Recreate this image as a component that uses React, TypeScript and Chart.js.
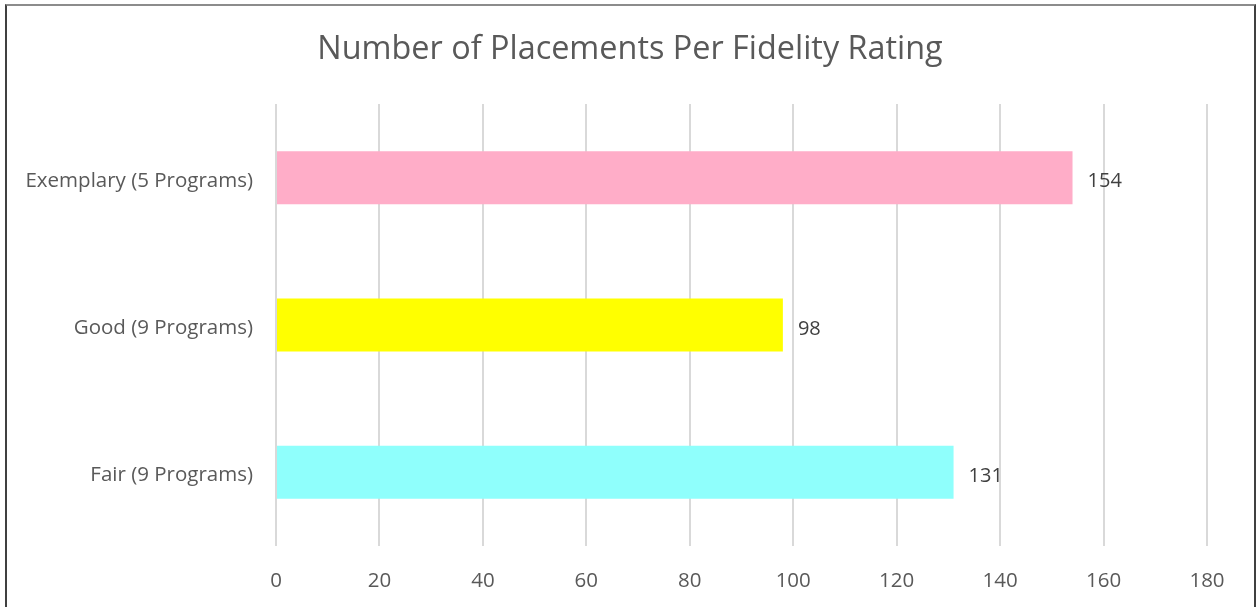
import React, { useEffect, useRef } from "react";
import { Chart, registerables } from "chart.js";

Chart.register(...registerables);

const titleText = "Number of Placements Per Fidelity Rating";
const categories = ["Exemplary (5 Programs)", "Good (9 Programs)", "Fair (9 Programs)"];
const placements = [154, 98, 131];
const barColors = ["#FFADC8", "#FFFF00", "#8FFFFC"];
const xTicks = [0, 20, 40, 60, 80, 100, 120, 140, 160, 180];

const FONT = "'Open Sans', sans-serif";

export default function App() {
  const ref = useRef<HTMLCanvasElement | null>(null);

  useEffect(() => {
    document.body.style.margin = "0";
    const canvas = ref.current;
    if (!canvas) return;

    const titlePlugin = {
      id: "customTitle",
      afterDraw(chart: any) {
        const ctx = chart.ctx;
        ctx.save();
        ctx.font = `32.4px ${FONT}`;
        ctx.fillStyle = "#595959";
        ctx.textAlign = "center";
        ctx.textBaseline = "middle";
        ctx.fillText(titleText, 630, 50);
        ctx.restore();
      },
    };

    const valueLabels = {
      id: "valueLabels",
      afterDatasetsDraw(chart: any) {
        const ctx = chart.ctx;
        const meta = chart.getDatasetMeta(0);
        ctx.save();
        ctx.font = `20px ${FONT}`;
        ctx.fillStyle = "#404040";
        ctx.textAlign = "left";
        ctx.textBaseline = "middle";
        meta.data.forEach((bar: any, i: number) => {
          ctx.fillText(String(placements[i]), bar.x + 15, bar.y + 4);
        });
        ctx.restore();
      },
    };

    const chart = new Chart(canvas, {
      type: "bar",
      data: {
        labels: categories,
        datasets: [
          {
            data: placements,
            backgroundColor: barColors,
            borderWidth: 0,
            barPercentage: 0.36,
            categoryPercentage: 1,
          },
        ],
      },
      options: {
        indexAxis: "y",
        animation: false,
        responsive: false,
        maintainAspectRatio: false,
        layout: { padding: { top: 104, right: 50, left: 0, bottom: 0 } },
        plugins: {
          legend: { display: false },
          title: { display: false },
          tooltip: { enabled: false },
        },
        scales: {
          x: {
            min: 0,
            max: 180,
            afterBuildTicks(scale: any) {
              scale.ticks = xTicks.map((v) => ({ value: v }));
            },
            afterFit(scale: any) {
              scale.height = 61;
            },
            grid: { color: "#D9D9D9", lineWidth: 2, drawTicks: false },
            border: { display: false },
            ticks: {
              padding: 23,
              color: "#595959",
              font: { family: FONT, size: 20.5 },
            },
          },
          y: {
            afterFit(scale: any) {
              scale.width = 276;
            },
            grid: { display: false, drawTicks: false },
            border: { display: false },
            ticks: {
              padding: 23,
              labelOffset: 3,
              color: "#595959",
              font: { family: FONT, size: 20.5 },
            },
          },
        },
      },
      plugins: [titlePlugin, valueLabels],
    });

    return () => chart.destroy();
  }, []);

  return (
    <div style={{ position: "absolute", left: 0, top: 0, width: 1257, height: 607, background: "#fff", overflow: "hidden" }}>
      <canvas ref={ref} width={1257} height={607} style={{ position: "absolute", left: 0, top: 0 }} />
      <div
        style={{
          position: "absolute",
          left: 5,
          top: 4,
          width: 1247,
          height: 700,
          borderLeft: "2px solid #404040",
          borderRight: "2px solid #404040",
          borderTop: "2px solid #8C8C8C",
          pointerEvents: "none",
        }}
      />
    </div>
  );
}
